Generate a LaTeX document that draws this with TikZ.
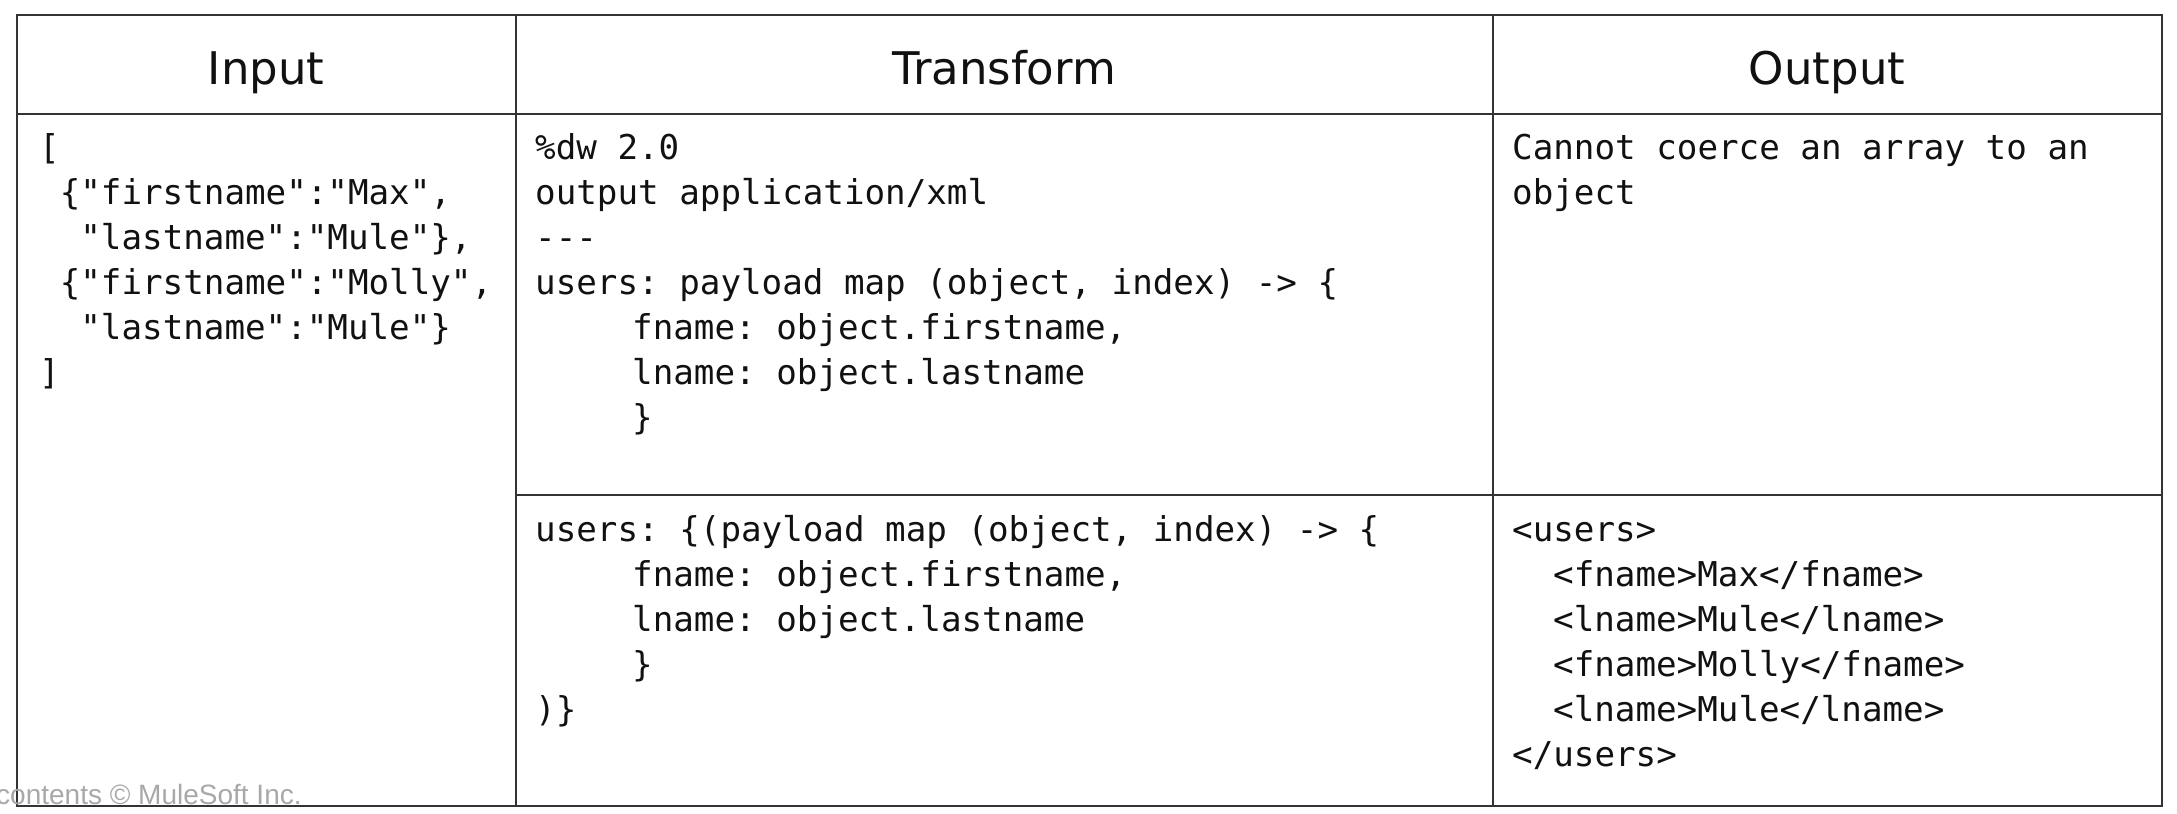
\documentclass[tikz,border=0pt]{standalone}
\usepackage{fontspec}
\newfontfamily\codefont{DejaVu Sans Mono}
\newfontfamily\headfont{DejaVu Sans}
\newfontfamily\markfont{Liberation Sans}
\definecolor{rule}{HTML}{333333}
\definecolor{txt}{HTML}{111111}
\definecolor{wm}{HTML}{A8A8A8}
\begin{document}
\begin{tikzpicture}[x=1pt,y=-1pt,
  code/.style={font=\codefont\fontsize{34.2}{45}\selectfont\frenchspacing, text=txt, anchor=base west, inner sep=0pt},
  head/.style={font=\headfont\fontsize{45}{54}\selectfont, text=txt, anchor=base, inner sep=0pt},
  gridline/.style={draw=rule, line width=2.6pt}]
\useasboundingbox (0,0) rectangle (2177,814);
% table grid
\coordinate (tl) at (17,15);
\coordinate (br) at (2162,806);
\draw[gridline] (tl) rectangle (br);
\draw[gridline] (17,114) -- (2162,114);
\draw[gridline] (516,15) -- (516,806);
\draw[gridline] (1493,15) -- (1493,806);
\draw[gridline] (516,495) -- (2162,495);
% headers
\node[head] (hin) at (266,84) {Input};
\node[head] (htr) at (1004,84) {Transform};
\node[head] (hout) at (1827,84) {Output};
% input
\node[code] (i1) at (39,159) {[};
\node[code] (i2) at (59.6,204) {\{"firstname":"Max",};
\node[code] (i3) at (80.2,249) {"lastname":"Mule"\},};
\node[code] (i4) at (59.6,294) {\{"firstname":"Molly",};
\node[code] (i5) at (80.2,339) {"lastname":"Mule"\}};
\node[code] (i6) at (39,384) {]};
% transform top
\node[code] (t1) at (535,159) {\%dw 2.0};
\node[code] (t2) at (535,204) {output application/xml};
\node[code] (t3) at (535,249) {---};
\node[code] (t4) at (535,294) {users: payload map (object, index) -> \{};
\node[code] (t5) at (632,339) {fname: object.firstname,};
\node[code] (t6) at (632,384) {lname: object.lastname};
\node[code] (t7) at (632,429) {\}};
% transform bottom
\node[code] (b1) at (535,541) {users: \{(payload map (object, index) -> \{};
\node[code] (b2) at (632,586) {fname: object.firstname,};
\node[code] (b3) at (632,631) {lname: object.lastname};
\node[code] (b4) at (632,676) {\}};
\node[code] (b5) at (535,721) {)\}};
% output top
\node[code] (o1) at (1512,159) {Cannot coerce an array to an};
\node[code] (o2) at (1512,204) {object};
% output bottom
\node[code] (p1) at (1512,541) {<users>};
\node[code] (p2) at (1553,586) {<fname>Max</fname>};
\node[code] (p3) at (1553,631) {<lname>Mule</lname>};
\node[code] (p4) at (1553,676) {<fname>Molly</fname>};
\node[code] (p5) at (1553,721) {<lname>Mule</lname>};
\node[code] (p6) at (1512,766) {</users>};
% watermark
\node[font=\markfont\fontsize{28}{32}\selectfont, text=wm, anchor=base west, inner sep=0pt] (wmk) at (-4,804) {contents \textcopyright{} MuleSoft Inc.};
\end{tikzpicture}
\end{document}
